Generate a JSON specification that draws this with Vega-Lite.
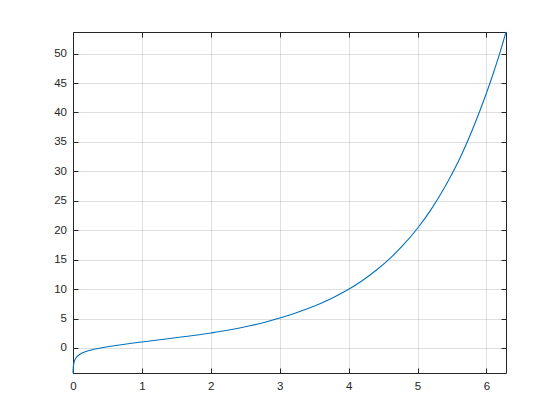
{
  "$schema": "https://vega.github.io/schema/vega-lite/v6.json",
  "autosize": "none",
  "padding": {"left": 73, "top": 32, "right": 54, "bottom": 47},
  "width": 433,
  "height": 341,
  "background": "#ffffff",
  "view": {"stroke": "#262626", "strokeWidth": 1},
  "config": {
    "axis": {
      "domain": false,
      "labelColor": "#262626",
      "labelFont": "Liberation Sans",
      "labelFontSize": 11.5,
      "labelFlush": false,
      "labelOverlap": false,
      "gridColor": "#262626",
      "gridOpacity": 0.15,
      "gridWidth": 1,
      "title": null
    }
  },
  "data": {
    "values": [
      {"x": 0.0, "y": -4.25},
      {"x": 0.002, "y": -3.75},
      {"x": 0.005, "y": -3.2},
      {"x": 0.01, "y": -2.75},
      {"x": 0.02, "y": -2.25},
      {"x": 0.04, "y": -1.75},
      {"x": 0.07, "y": -1.32},
      {"x": 0.1, "y": -1.06},
      {"x": 0.15, "y": -0.76},
      {"x": 0.22, "y": -0.47},
      {"x": 0.3, "y": -0.23},
      {"x": 0.4, "y": 0.01},
      {"x": 0.5, "y": 0.21},
      {"x": 0.6, "y": 0.39},
      {"x": 0.7, "y": 0.56},
      {"x": 0.85, "y": 0.8},
      {"x": 1.0, "y": 1.02},
      {"x": 1.2, "y": 1.3},
      {"x": 1.4, "y": 1.6},
      {"x": 1.6, "y": 1.9},
      {"x": 1.8, "y": 2.2},
      {"x": 2.0, "y": 2.55},
      {"x": 2.2, "y": 2.92},
      {"x": 2.4, "y": 3.35},
      {"x": 2.6, "y": 3.85},
      {"x": 2.8, "y": 4.42},
      {"x": 3.0, "y": 5.08},
      {"x": 3.2, "y": 5.82},
      {"x": 3.4, "y": 6.65},
      {"x": 3.6, "y": 7.6},
      {"x": 3.8, "y": 8.7},
      {"x": 4.0, "y": 9.97},
      {"x": 4.2, "y": 11.47},
      {"x": 4.4, "y": 13.2},
      {"x": 4.6, "y": 15.22},
      {"x": 4.8, "y": 17.58},
      {"x": 5.0, "y": 20.34},
      {"x": 5.2, "y": 23.59},
      {"x": 5.4, "y": 27.41},
      {"x": 5.6, "y": 31.88},
      {"x": 5.8, "y": 37.2},
      {"x": 6.0, "y": 43.3},
      {"x": 6.1, "y": 46.7},
      {"x": 6.2, "y": 50.35},
      {"x": 6.2832, "y": 53.67}
    ]
  },
  "layer": [
    {
      "mark": {"type": "line", "color": "#0072BD", "strokeWidth": 1.1, "interpolate": "monotone"},
      "encoding": {
        "x": {
          "field": "x", "type": "quantitative",
          "scale": {"domain": [0, 6.2832], "nice": false, "zero": false},
          "axis": {"orient": "bottom", "values": [0, 1, 2, 3, 4, 5, 6], "ticks": true, "tickSize": 5, "tickWidth": 1, "tickColor": "#262626", "offset": -5, "labelPadding": 7, "grid": true, "format": "d"}
        },
        "y": {
          "field": "y", "type": "quantitative",
          "scale": {"domain": [-4.25, 53.67], "nice": false, "zero": false},
          "axis": {"orient": "left", "values": [0, 5, 10, 15, 20, 25, 30, 35, 40, 45, 50], "ticks": true, "tickSize": 5, "tickWidth": 1, "tickColor": "#262626", "offset": -5, "labelPadding": 6.5, "grid": true, "format": "d"}
        }
      }
    },
    {
      "mark": {"type": "line", "opacity": 0},
      "encoding": {
        "x": {
          "field": "x", "type": "quantitative",
          "axis": {"orient": "top", "values": [0, 1, 2, 3, 4, 5, 6], "ticks": true, "tickSize": 5, "tickWidth": 1, "tickColor": "#262626", "offset": -5, "labels": false, "grid": false}
        },
        "y": {
          "field": "y", "type": "quantitative",
          "axis": {"orient": "right", "values": [0, 5, 10, 15, 20, 25, 30, 35, 40, 45, 50], "ticks": true, "tickSize": 5, "tickWidth": 1, "tickColor": "#262626", "offset": -5, "labels": false, "grid": false}
        }
      }
    }
  ],
  "resolve": {"axis": {"x": "independent", "y": "independent"}}
}
